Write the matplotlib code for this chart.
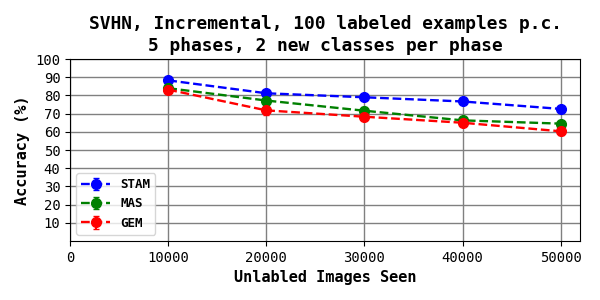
import numpy as np
import matplotlib
matplotlib.use('Agg')
from matplotlib import pyplot as plt

plt.rcParams['font.family'] = 'DejaVu Sans Mono'

# data
images_seen = [10000, 20000, 30000, 40000, 50000]
stam = [88.3, 81.2, 79.0, 76.7, 72.6]
stam_err = [1.0, 1.0, 1.0, 1.0, 1.2]
mas = [84.0, 77.2, 71.6, 66.3, 64.5]
mas_err = [1.2, 1.5, 2.0, 1.2, 1.2]
gem = [83.2, 71.8, 68.3, 65.0, 60.3]
gem_err = [1.5, 2.5, 2.0, 1.5, 1.8]

fig = plt.figure(figsize=(6, 3), dpi=100)
ax = fig.add_axes([0.117, 0.197, 0.85, 0.606])

ax.errorbar(images_seen, stam, yerr=stam_err, fmt='--o', color='blue', label='STAM',
            markersize=7, capsize=2, linewidth=1.7, elinewidth=1.5)
ax.errorbar(images_seen, mas, yerr=mas_err, fmt='--o', color='green', label='MAS',
            markersize=7, capsize=2, linewidth=1.7, elinewidth=1.5)
ax.errorbar(images_seen, gem, yerr=gem_err, fmt='--o', color='red', label='GEM',
            markersize=7, capsize=2, linewidth=1.7, elinewidth=1.5)

ax.set_xlim(0, 52000)
ax.set_ylim(0, 100)
ax.set_xticks([0, 10000, 20000, 30000, 40000, 50000])
ax.set_yticks(range(10, 101, 10))
ax.tick_params(labelsize=10)
ax.grid(True, color='gray', linewidth=1)

ax.set_xlabel('Unlabled Images Seen', fontsize=11, fontweight='bold')
ax.set_ylabel('Accuracy (%)', fontsize=11, fontweight='bold')
ax.set_title('SVHN, Incremental, 100 labeled examples p.c.\n5 phases, 2 new classes per phase',
             fontsize=12.9, fontweight='bold', linespacing=1.25)
ax.legend(loc='lower left', prop={'size': 9, 'weight': 'bold'}, handlelength=2.3)

plt.savefig('out.png')
